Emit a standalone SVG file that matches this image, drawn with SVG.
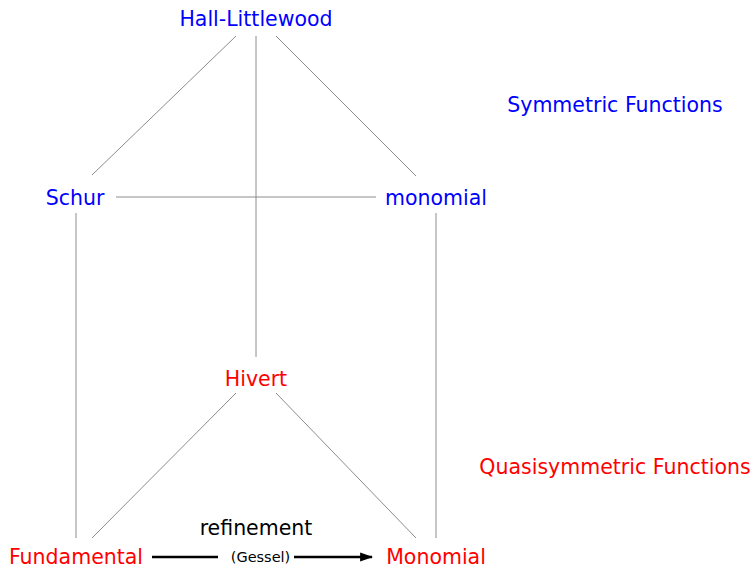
<svg xmlns="http://www.w3.org/2000/svg" width="754" height="568" viewBox="0 0 754 568">
<defs>
<style>
text{font-family:"DejaVu Sans","Noto Sans",sans-serif;font-size:20.5px;text-anchor:middle}
.b{fill:#0000ff}
.r{fill:#ff0000}
.k{fill:#000}
.e{stroke:#8c8c8c;stroke-width:1;fill:none}
.a{stroke:#000;stroke-width:2.4;fill:none}
</style>
<marker id="ah" viewBox="0 0 10 10" refX="9" refY="5" markerWidth="5.5" markerHeight="5.5" orient="auto" markerUnits="strokeWidth">
<path d="M0,1.5 L10,5 L0,8.5 Z" fill="#000"/>
</marker>
</defs>
<g id="connectors">
<line class="e" x1="236" y1="36" x2="92" y2="175"/>
<line class="e" x1="256" y1="36" x2="256" y2="357"/>
<line class="e" x1="276" y1="36" x2="416" y2="176"/>
<line class="e" x1="116" y1="197" x2="376" y2="197"/>
<line class="e" x1="76" y1="213" x2="76" y2="538"/>
<line class="e" x1="436" y1="213" x2="436" y2="538"/>
<line class="e" x1="236" y1="393" x2="92" y2="538"/>
<line class="e" x1="276" y1="393" x2="416" y2="538"/>
<line class="a" x1="152" y1="557" x2="218" y2="557"/>
<line class="a" x1="294" y1="557" x2="372" y2="557" marker-end="url(#ah)"/>
<text class="k" x="256" y="535">refinement</text>
<text class="k" x="260.5" y="562" style="font-size:14.5px">(Gessel)</text>
</g>
<g id="hall-littlewood"><text class="b" x="256" y="26">Hall-Littlewood</text></g>
<g id="schur"><text class="b" x="75" y="205">Schur</text></g>
<g id="monomial-sym"><text class="b" x="436" y="205">monomial</text></g>
<g id="hivert"><text class="r" x="256" y="386">Hivert</text></g>
<g id="fundamental"><text class="r" x="76" y="564">Fundamental</text></g>
<g id="monomial-qsym"><text class="r" x="436" y="564">Monomial</text></g>
<g id="label-sym"><text class="b" x="615" y="112">Symmetric Functions</text></g>
<g id="label-qsym"><text class="r" x="615" y="474">Quasisymmetric Functions</text></g>
</svg>
